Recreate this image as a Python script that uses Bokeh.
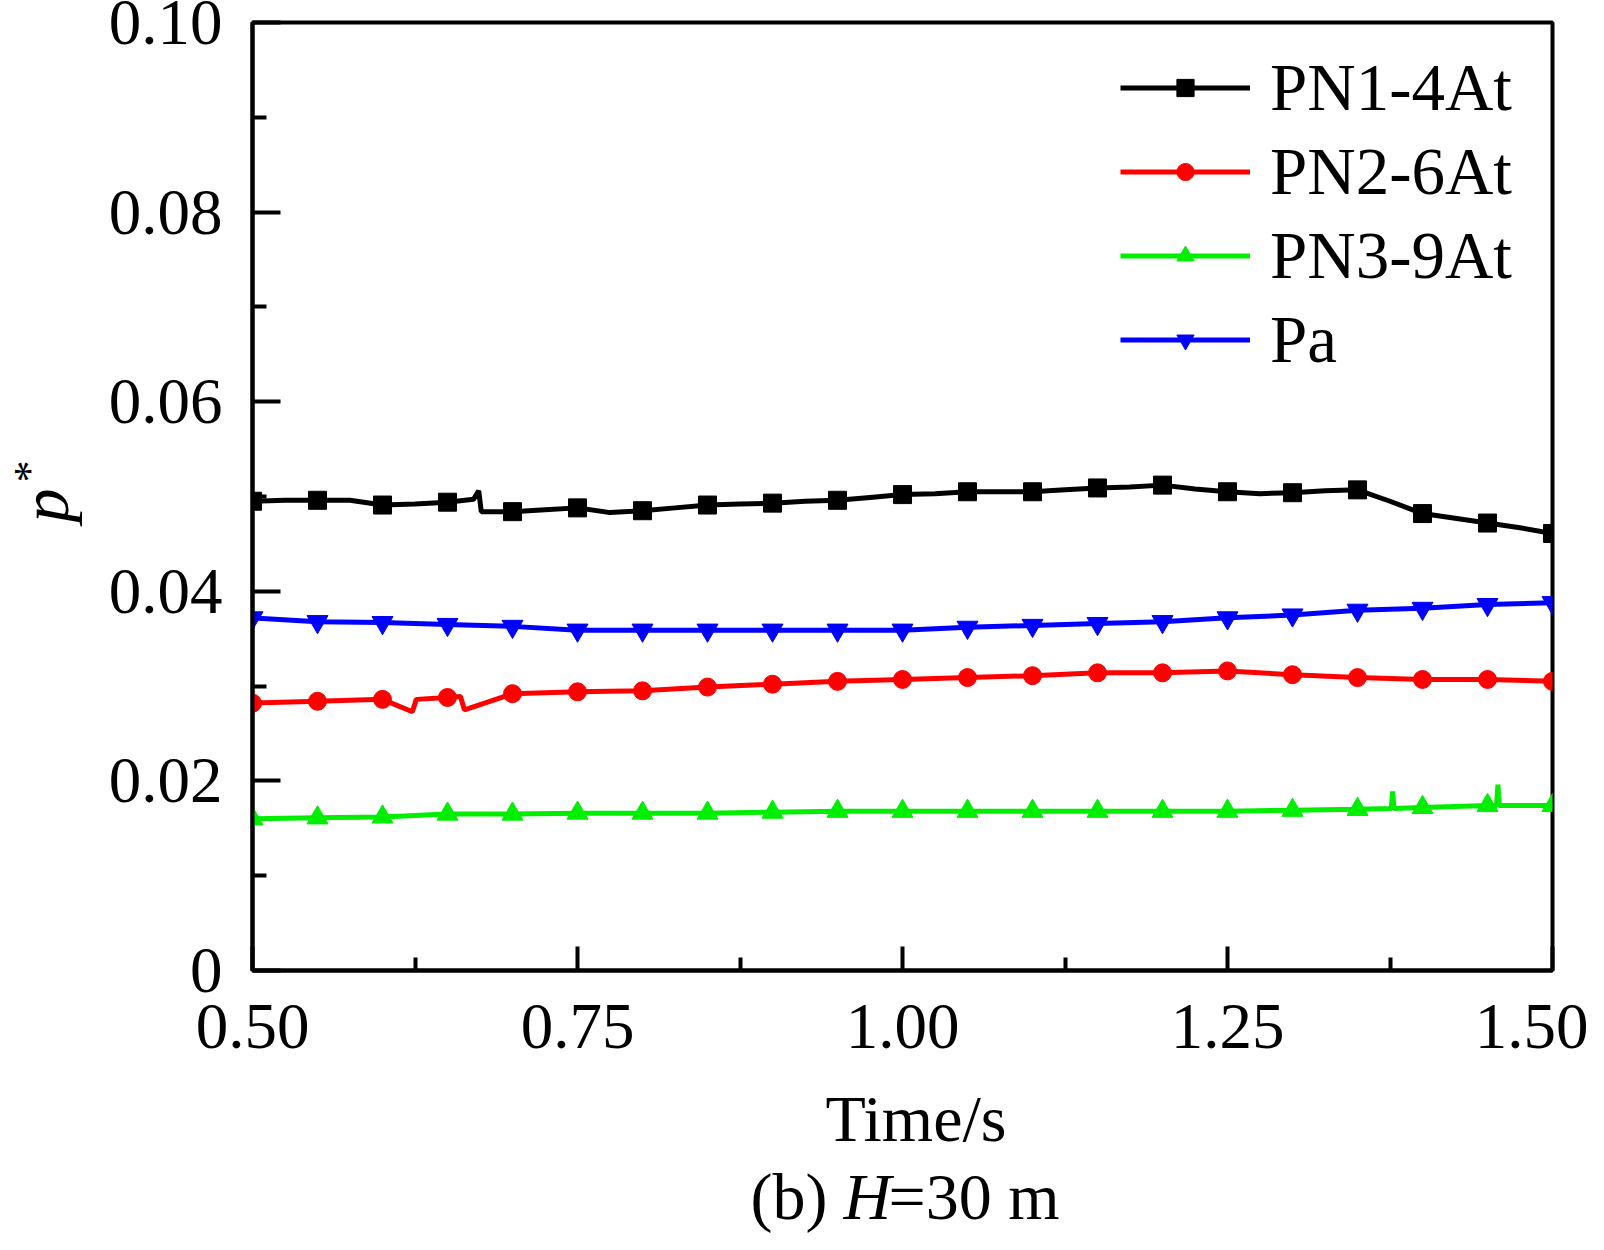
import math
from bokeh.plotting import figure
from bokeh.layouts import row, column
from bokeh.models import (Range1d, FixedTicker, CustomJSTickFormatter, Label,
                          Legend, LegendItem, ColumnDataSource)
from bokeh.embed import file_html
from bokeh.resources import INLINE

# ---------------- data ----------------
t_pn1 = [0.500, 0.525, 0.550, 0.575, 0.600, 0.625, 0.650, 0.670, 0.674, 0.676,
         0.700, 0.725, 0.750, 0.775, 0.800, 0.825, 0.850, 0.875, 0.900, 0.925,
         0.950, 0.975, 1.000, 1.025, 1.050, 1.075, 1.100, 1.125, 1.150, 1.175,
         1.200, 1.225, 1.250, 1.275, 1.300, 1.325, 1.350, 1.375, 1.400, 1.425,
         1.450, 1.475, 1.500]
v_pn1 = [0.0495, 0.0496, 0.0496, 0.0496, 0.0491, 0.0492, 0.0494, 0.0497, 0.0506, 0.0484,
         0.0484, 0.0486, 0.0488, 0.0483, 0.0485, 0.0488, 0.0491, 0.0492, 0.0493, 0.0495,
         0.0496, 0.0499, 0.0502, 0.0503, 0.0505, 0.0505, 0.0505, 0.0507, 0.0509, 0.0510,
         0.0512, 0.0508, 0.0505, 0.0503, 0.0504, 0.0506, 0.0507, 0.0495, 0.0482, 0.0477,
         0.0472, 0.0467, 0.0461]

t_pn2 = [0.500, 0.550, 0.600, 0.623, 0.626, 0.650, 0.660, 0.663, 0.700, 0.750,
         0.800, 0.850, 0.900, 0.950, 1.000, 1.050, 1.100, 1.150, 1.200, 1.250,
         1.300, 1.350, 1.400, 1.450, 1.500]
v_pn2 = [0.0282, 0.0284, 0.0286, 0.0273, 0.0286, 0.0288, 0.0289, 0.0275, 0.0292, 0.0294,
         0.0295, 0.0299, 0.0302, 0.0305, 0.0307, 0.0309, 0.0311, 0.0314, 0.0314, 0.0316,
         0.0312, 0.0309, 0.0307, 0.0307, 0.0305]

t_pn3 = [0.500, 0.550, 0.600, 0.650, 0.700, 0.750, 0.800, 0.850, 0.900, 0.950,
         1.000, 1.050, 1.100, 1.150, 1.200, 1.250, 1.300, 1.350, 1.376, 1.377,
         1.378, 1.400, 1.450, 1.457, 1.458, 1.459, 1.500]
v_pn3 = [0.0160, 0.0161, 0.0162, 0.0165, 0.0165, 0.0166, 0.0166, 0.0166, 0.0167, 0.0168,
         0.0168, 0.0168, 0.0168, 0.0168, 0.0168, 0.0168, 0.0169, 0.0170, 0.0171, 0.0189,
         0.0171, 0.0172, 0.0174, 0.0174, 0.0196, 0.0174, 0.0174]

t_pa = [0.500, 0.550, 0.600, 0.650, 0.700, 0.750, 0.800, 0.850, 0.900, 0.950,
        1.000, 1.050, 1.100, 1.150, 1.200, 1.250, 1.300, 1.350, 1.400, 1.450, 1.500]
v_pa = [0.0372, 0.0368, 0.0367, 0.0365, 0.0363, 0.0359, 0.0359, 0.0359, 0.0359, 0.0359,
        0.0359, 0.0362, 0.0364, 0.0366, 0.0368, 0.0372, 0.0375, 0.0380, 0.0382, 0.0386, 0.0388]

labels = ["PN1-4At", "PN2-6At", "PN3-9At", "Pa"]
colors = ["#000000", "#ff0000", "#00ee00", "#0000ff"]
markers = ["square", "circle", "triangle", "inverted_triangle"]

x_major = [0.50, 0.75, 1.00, 1.25, 1.50]
x_minor = [0.625, 0.875, 1.125, 1.375]
y_major = [0.0, 0.02, 0.04, 0.06, 0.08, 0.10]
y_minor = [0.01, 0.03, 0.05, 0.07, 0.09]

FONT = "Liberation Serif"

# ---------------- main figure ----------------
p = figure(width=1498, height=1080, output_backend="svg", toolbar_location=None,
           x_range=Range1d(0.5, 1.5), y_range=Range1d(0.0, 0.10),
           min_border_left=162, min_border_right=36, min_border_top=22,
           min_border_bottom=110)
p.grid.visible = False
p.background_fill_color = "white"
p.border_fill_color = "white"
p.outline_line_color = "black"
p.outline_line_width = 4

for ax in (p.xaxis[0], p.yaxis[0]):
    ax.axis_line_width = 4
    ax.major_tick_line_width = 4
    ax.minor_tick_line_width = 4
    ax.major_tick_out = 0
    ax.minor_tick_out = 0
    ax.major_label_text_font = FONT
    ax.major_label_text_font_size = "65px"
    ax.major_label_text_color = "black"

p.xaxis[0].ticker = FixedTicker(ticks=x_major, minor_ticks=x_minor)
p.yaxis[0].ticker = FixedTicker(ticks=y_major, minor_ticks=y_minor)
p.xaxis[0].major_tick_in = 24
p.xaxis[0].minor_tick_in = 13
p.yaxis[0].major_tick_in = 28
p.yaxis[0].minor_tick_in = 14
p.xaxis[0].major_label_standoff = 34
p.yaxis[0].major_label_standoff = 30
p.xaxis[0].formatter = CustomJSTickFormatter(code="return tick.toFixed(2);")
p.yaxis[0].formatter = CustomJSTickFormatter(code="return tick == 0 ? '0' : tick.toFixed(2);")

series = [(t_pn1, v_pn1), (t_pn2, v_pn2), (t_pn3, v_pn3), (t_pa, v_pa)]
items = []
for (t, v), lab, col, mk in zip(series, labels, colors, markers):
    src = ColumnDataSource(dict(t=t, v=v))
    mt = [a for a in t if abs(round(a / 0.05) * 0.05 - a) < 1e-9]
    mv = [b for a, b in zip(t, v) if abs(round(a / 0.05) * 0.05 - a) < 1e-9]
    msrc = ColumnDataSource(dict(t=mt, v=mv))
    lr = p.line("t", "v", source=src, line_color=col, line_width=5)
    sr = p.scatter("t", "v", source=msrc, marker=mk, size=18 if mk in ("square", "circle") else 21,
                   fill_color=col, line_color=col, line_width=1)
    items.append(LegendItem(label=lab, renderers=[lr, sr]))

legend = Legend(items=items, location=(868, 592), glyph_width=130, glyph_height=43,
                label_standoff=20, spacing=7, padding=0, margin=0,
                border_line_color=None, background_fill_alpha=0,
                label_text_font=FONT, label_text_font_size="67px",
                label_text_color="black")
p.add_layout(legend, "center")


def text_panel(w, h, **borders):
    f = figure(width=w, height=h, output_backend="svg", toolbar_location=None,
               x_axis_location=None, y_axis_location=None,
               x_range=Range1d(0, 1), y_range=Range1d(0, 1), **borders)
    f.grid.visible = False
    f.outline_line_color = None
    f.background_fill_color = "white"
    f.border_fill_color = "white"
    return f


common = dict(x_units="screen", y_units="screen", text_font=FONT,
              text_baseline="alphabetic", text_color="black")

# left panel: y-axis title p*
left = text_panel(90, 1234, min_border=0)
left.add_layout(Label(x=44, y=729, text="p", angle=math.pi / 2, text_font_style="italic",
                      text_font_size="68px", text_align="center", **common))
left.add_layout(Label(x=29, y=763, text="*", angle=math.pi / 2,
                      text_font_size="44px", text_align="center", **common))

# bottom panel: x-axis title and caption (frame aligned with the main frame)
bottom = text_panel(1498, 154, min_border_left=162, min_border_right=36,
                    min_border_top=0, min_border_bottom=0)
bottom.add_layout(Label(x=573, y=116, text="Time/s", text_font_size="66px",
                        text_align="left", **common))
bottom.add_layout(Label(x=498, y=38, text="(b)", text_font_size="66px",
                        text_align="left", **common))
bottom.add_layout(Label(x=591, y=38, text="H", text_font_style="italic",
                        text_font_size="66px", text_align="left", **common))
bottom.add_layout(Label(x=636, y=38, text="=30 m", text_font_size="66px",
                        text_align="left", **common))

layout = row(left, column(p, bottom, spacing=0), spacing=0)

open("out.html", "w").write(file_html(layout, INLINE))
